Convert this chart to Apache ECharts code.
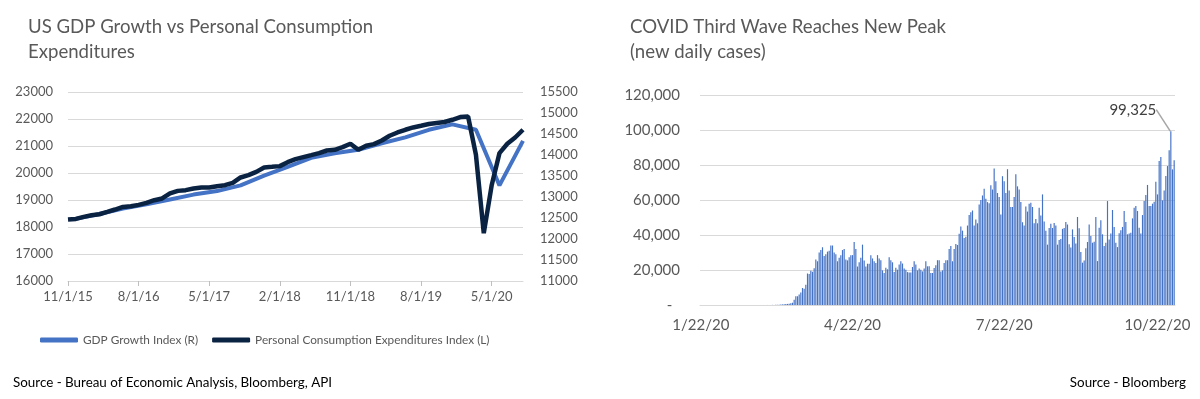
<!DOCTYPE html>
<html>
<head>
<meta charset="utf-8">
<title>GDP vs PCE / COVID cases</title>
<script src="https://cdn.jsdelivr.net/npm/echarts@6/dist/echarts.min.js"></script>
<style>
  html, body { margin: 0; padding: 0; background: #fff; }
  #gdp, #covid { position: absolute; top: 0; width: 600px; height: 399px; }
  #gdp { left: 0; }
  #covid { left: 600px; }
</style>
</head>
<body>
<div id="gdp"></div>
<div id="covid"></div>
<script>
// ---- left chart: GDP vs PCE (monthly axis, 11/1/15 .. 9/1/20) ----
const gdpTickLabels = ['11/1/15', '8/1/16', '5/1/17', '2/1/18', '11/1/18', '8/1/19', '5/1/20']

// PCE, monthly, right axis
const pceValues = [
  12464, 12478, 12526, 12566, 12590, 12645, 12702, 12764, 12781, 12812, 12860, 12924,
  12965, 13084, 13146, 13163, 13203, 13227, 13227, 13258, 13282, 13337, 13465, 13520,
  13599, 13703, 13718, 13735, 13830, 13902, 13950, 13997, 14045, 14107, 14124, 14188,
  14267, 14124, 14219, 14259, 14346, 14458, 14536, 14601, 14656, 14696, 14737, 14761,
  14785, 14839, 14904, 14918, 14005, 12137, 13273, 14045, 14267, 14417, 14601
]

// GDP, quarterly, left axis
const gdpDates = [
  '12/1/15', '3/1/16', '6/1/16', '9/1/16', '12/1/16', '3/1/17', '6/1/17', '9/1/17',
  '12/1/17', '3/1/18', '6/1/18', '9/1/18', '12/1/18', '3/1/19', '6/1/19', '9/1/19',
  '12/1/19', '3/1/20', '6/1/20', '9/1/20'
]
const gdpValues = [
  18300, 18480, 18680, 18840, 19020, 19200, 19330, 19540,
  19900, 20230, 20560, 20730, 20860, 21100, 21320, 21600,
  21800, 21600, 19540, 21190
]

// month categories
const months = []
for (let m = 0; m < pceValues.length; m++) {
  const k = 10 + m
  months.push((k % 12 + 1) + '/1/' + (15 + Math.floor(k / 12)))
}

// ---- right chart: new daily cases 1/22/20 .. 11/1/20 ----
const caseTickLabels = ['1/22/20', '4/22/20', '7/22/20', '10/22/20']
const caseValues = [
  // 1/22 - 1/31
  1, 0, 1, 0, 3, 0, 0, 0, 1, 0,
  // February
  1, 0, 3, 0, 0, 1, 0, 0, 0, 0, 1, 0, 1, 0, 0, 0, 0, 0, 0, 0,
  2, 0, 0, 0, 0, 3, 1, 2, 5,
  // 3/1 - 3/14
  8, 23, 20, 31, 70, 66, 101, 114, 155, 290, 340, 446, 520, 620,
  // 3/15 - 5/4
  700, 1000, 1300, 3000, 5000, 5000, 6000, 7200, 9700, 9300, 11600, 18000, 17700,
  19600, 19000, 21000, 26000, 25000, 30000, 31400, 33000, 28000, 29000, 30500, 31000,
  34000, 34000, 30000, 29000, 25000, 27000, 28500, 31400, 32000, 26000, 25500, 27300,
  28500, 28500, 36000, 32000, 22000, 24500, 27000, 34500, 25500, 22000, 23600, 23600,
  28500, 26600,
  // 5/5 - 6/25
  25000, 24000, 28500, 26600, 25600, 19800, 18300, 21300, 20400, 27300, 25600, 24400,
  18800, 21300, 20200, 23100, 25000, 23700, 20800, 20200, 18800, 18600, 18600, 21700,
  25000, 23100, 19800, 20800, 20200, 19200, 20800, 25000, 22100, 22100, 18300, 18300,
  21100, 22700, 25600, 25600, 19200, 19800, 24000, 25600, 25600, 32000, 33700, 25000,
  32000, 34900, 34300, 40700,
  // 6/26 - 8/27
  44800, 42500, 38300, 39000, 45400, 51500, 53000, 54000, 45400, 48900, 46700, 57500,
  60000, 62600, 66500, 60700, 58800, 58200, 68400, 66000, 78000, 70700, 64000, 61700,
  51700, 73600, 70700, 64000, 77600, 65500, 56000, 56000, 61700, 74700, 67800, 66000,
  58800, 47300, 45400, 56300, 53400, 57900, 58400, 56000, 46700, 49200, 46700, 55600,
  51100, 63200, 47700, 42500, 34500, 44000, 46400, 44000, 46900, 45400, 34500, 37200,
  37700, 43500, 44000,
  // 8/28 - 11/1
  47400, 46000, 34700, 32800, 43200, 38900, 35200, 50300, 43800, 30300, 24200, 25500,
  32400, 36000, 46000, 39400, 35600, 36200, 50300, 25100, 44200, 48400, 40400, 33700,
  35600, 59400, 37500, 40800, 54300, 44600, 35600, 33100, 41000, 42700, 44600, 53700,
  47400, 40400, 40800, 41300, 49500, 55600, 56600, 53700, 44200, 40800, 51400, 59400,
  62900, 68600, 56600, 56600, 57900, 59000, 70500, 63200, 82300, 84600, 59800, 65500,
  73700, 79400, 88400, 99325, 77500, 82700
]

// day categories
const days = []
for (let i = 0; i < caseValues.length; i++) {
  const d = new Date(2020, 0, 22 + i)
  days.push((d.getMonth() + 1) + '/' + d.getDate() + '/20')
}

const FONT = 'Lato, "Liberation Sans", sans-serif'
const GREY = '#595959'
const GRID = '#d9d9d9'

const gdpChart = echarts.init(document.getElementById('gdp'))
gdpChart.setOption({
  animation: false,
  textStyle: { fontFamily: FONT },
  title: [
    {
      text: 'US GDP Growth vs Personal Consumption\nExpenditures',
      left: 23,
      top: 9,
      textStyle: { fontSize: 18.6, fontWeight: 'normal', color: GREY, lineHeight: 25, fontFamily: FONT }
    },
    {
      text: 'Source - Bureau of Economic Analysis, Bloomberg, API',
      left: 8,
      top: 371,
      textStyle: { fontSize: 13.4, fontWeight: 'normal', color: '#000', fontFamily: FONT }
    }
  ],
  legend: {
    left: 35,
    top: 329,
    icon: 'roundRect',
    itemWidth: 38,
    itemHeight: 5,
    itemGap: 14,
    textStyle: { fontSize: 11.8, color: GREY, fontFamily: FONT },
    data: ['GDP Growth Index (R)', 'Personal Consumption Expenditures Index (L)']
  },
  grid: { left: 68, right: 77, top: 92, bottom: 118 },
  xAxis: {
    type: 'category',
    boundaryGap: false,
    data: months,
    axisLine: { lineStyle: { color: GRID } },
    axisTick: {
      length: 5,
      interval: (i, v) => gdpTickLabels.includes(v),
      lineStyle: { color: '#bfbfbf' }
    },
    axisLabel: {
      interval: (i, v) => gdpTickLabels.includes(v),
      color: GREY,
      fontSize: 13,
      margin: 9
    }
  },
  yAxis: [
    {
      type: 'value',
      min: 16000,
      max: 23000,
      interval: 1000,
      axisLabel: { color: GREY, fontSize: 13, margin: 15, formatter: v => String(v) },
      splitLine: { lineStyle: { color: GRID } }
    },
    {
      type: 'value',
      position: 'right',
      min: 11000,
      max: 15500,
      interval: 500,
      axisLabel: { color: GREY, fontSize: 13, margin: 17, formatter: v => String(v) },
      splitLine: { show: false }
    }
  ],
  series: [
    {
      name: 'GDP Growth Index (R)',
      type: 'line',
      yAxisIndex: 0,
      symbol: 'none',
      connectNulls: true,
      itemStyle: { color: '#4472C4' },
      lineStyle: { color: '#4472C4', width: 4 },
      data: gdpDates.map((d, i) => [d, gdpValues[i]])
    },
    {
      name: 'Personal Consumption Expenditures Index (L)',
      type: 'line',
      yAxisIndex: 1,
      symbol: 'none',
      itemStyle: { color: '#0b2343' },
      lineStyle: { color: '#0b2343', width: 4.5 },
      data: pceValues
    }
  ]
})

const peakIdx = caseValues.indexOf(Math.max(...caseValues))

const covidChart = echarts.init(document.getElementById('covid'))
covidChart.setOption({
  animation: false,
  textStyle: { fontFamily: FONT },
  title: [
    {
      text: 'COVID Third Wave Reaches New Peak\n(new daily cases)',
      left: 25,
      top: 9,
      textStyle: { fontSize: 18.6, fontWeight: 'normal', color: GREY, lineHeight: 25, fontFamily: FONT }
    },
    {
      text: 'Source - Bloomberg',
      right: 9,
      top: 371,
      textStyle: { fontSize: 13.4, fontWeight: 'normal', color: '#000', fontFamily: FONT }
    }
  ],
  grid: { left: 100, right: 25, top: 95, bottom: 94 },
  xAxis: {
    type: 'category',
    data: days,
    axisLine: { lineStyle: { color: GRID } },
    axisTick: {
      alignWithLabel: true,
      length: 6,
      interval: (i, v) => caseTickLabels.includes(v),
      lineStyle: { color: '#bfbfbf' }
    },
    axisLabel: {
      interval: (i, v) => caseTickLabels.includes(v),
      color: GREY,
      fontSize: 15,
      margin: 13
    }
  },
  yAxis: {
    type: 'value',
    min: 0,
    max: 120000,
    interval: 20000,
    axisLabel: {
      color: GREY,
      fontSize: 15,
      margin: 20,
      formatter: v => (v === 0 ? '-  ' : v.toLocaleString('en-US'))
    },
    splitLine: { lineStyle: { color: GRID } }
  },
  series: [
    {
      type: 'bar',
      barCategoryGap: '30%',
      itemStyle: { color: '#4472C4' },
      labelLayout: { dx: -38, dy: -9 },
      labelLine: { show: true, lineStyle: { color: '#a6a6a6', width: 1.5 } },
      data: caseValues.map((v, i) => (i === peakIdx
        ? {
            value: v,
            label: {
              show: true,
              position: 'top',
              color: '#404040',
              fontSize: 15,
              formatter: p => p.value.toLocaleString('en-US')
            }
          }
        : v))
    }
  ]
})
</script>
</body>
</html>
